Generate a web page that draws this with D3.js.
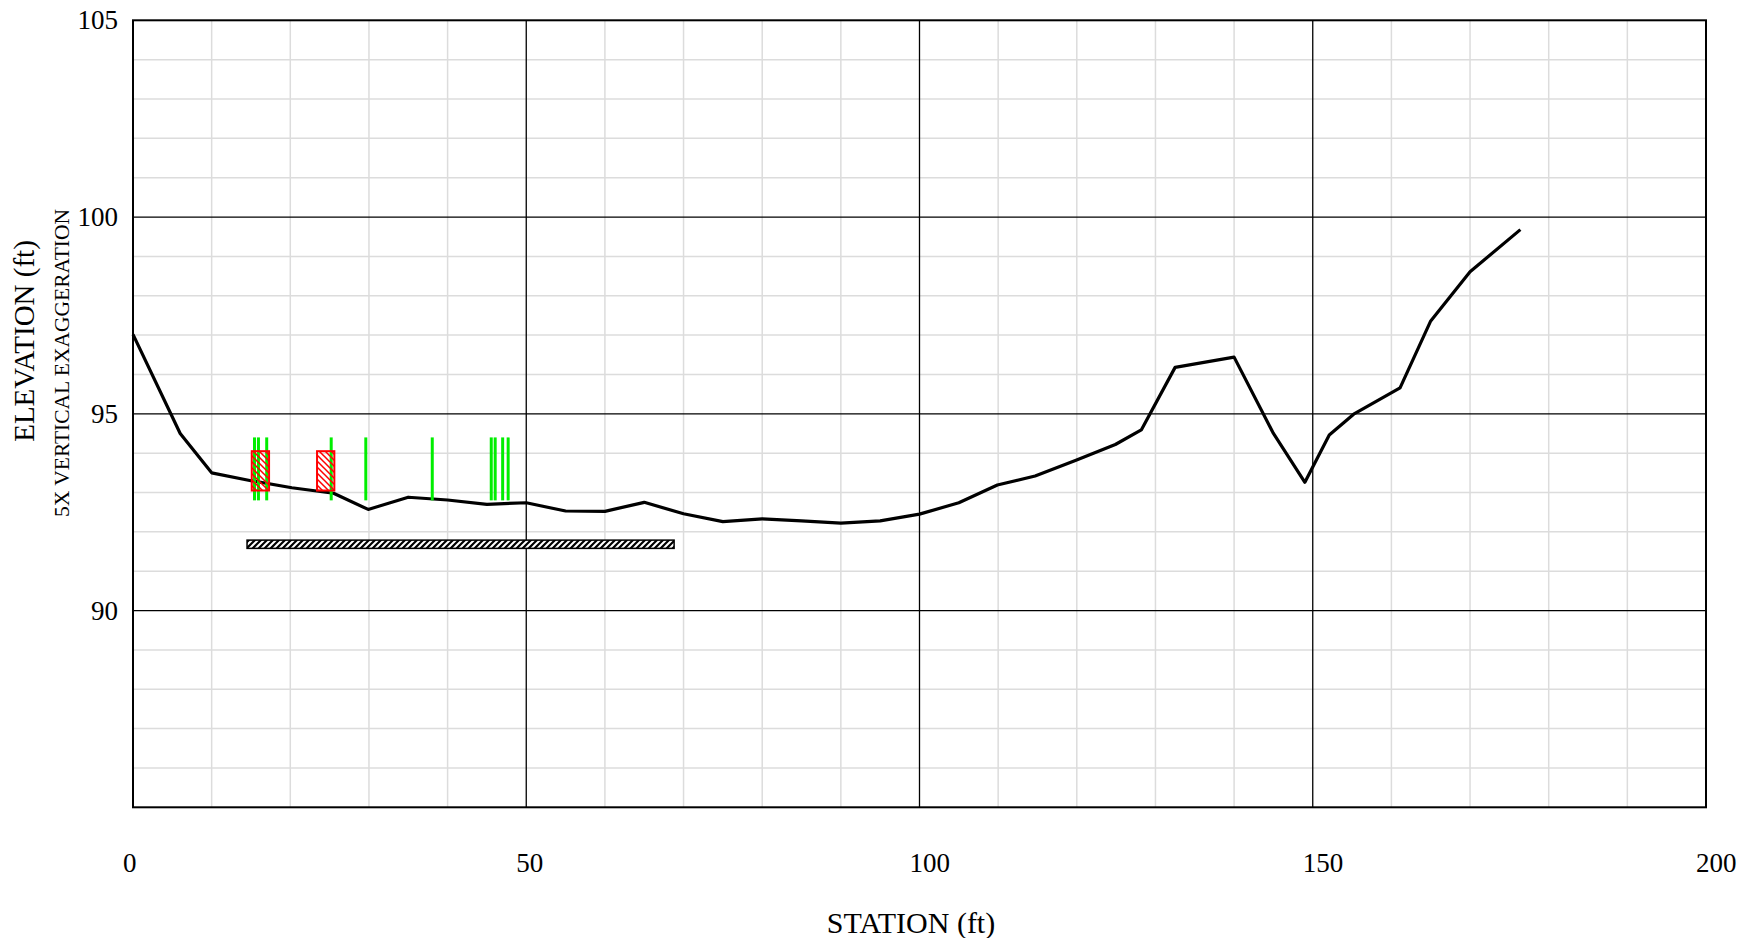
<!DOCTYPE html>
<html>
<head>
<meta charset="utf-8">
<script src="https://cdn.jsdelivr.net/npm/d3@7"></script>
<style>
  html, body { margin: 0; padding: 0; background: #fff; }
  svg { display: block; }
  text { font-family: "Liberation Serif", "Times New Roman", serif; fill: #000; }
</style>
</head>
<body>
<svg id="chart" width="1758" height="938"></svg>
<script>
// ---- data ----
const stations   = [0, 6, 10, 15, 20.2, 25.5, 29.9, 35, 40, 45, 50, 55, 60, 65, 70, 75, 80, 85, 90, 95, 100, 105, 109.9, 114.7, 119.9, 124.9, 128.2, 132.5, 140, 145, 149, 152.1, 155.2, 161.1, 165, 170, 176.4];
const elevations = [97.02, 94.5, 93.5, 93.3, 93.12, 92.98, 92.57, 92.88, 92.81, 92.7, 92.74, 92.53, 92.52, 92.75, 92.46, 92.26, 92.33, 92.28, 92.22, 92.28, 92.45, 92.74, 93.19, 93.42, 93.82, 94.22, 94.59, 96.18, 96.44, 94.5, 93.26, 94.46, 94.99, 95.66, 97.36, 98.61, 99.68];

const greenStations = [15.45, 15.95, 17.0, 25.2, 29.6, 38.05, 45.55, 46.05, 47.0, 47.7];
const greenTop = 94.4, greenBottom = 92.8;

const boxStart = [15.1, 23.4];
const boxEnd   = [17.3, 25.6];
const boxTop = 94.05, boxBottom = 93.05;

const barStart = 14.5, barEnd = 68.8;
const barTop = 91.79, barBottom = 91.58;

const xTicks = [0, 50, 100, 150, 200];
const yTicks = [90, 95, 100, 105];
const xMinor = d3.range(0, 201, 10);
const yMinor = d3.range(85, 106, 1);

// ---- layout ----
const plotLeft = 133, plotTop = 20.3, plotW = 1573, plotH = 787;
const svg = d3.select("#chart");
const x = d3.scaleLinear().domain([0, 200]).range([plotLeft, plotLeft + plotW]);
const y = d3.scaleLinear().domain([85, 105]).range([plotTop + plotH, plotTop]);

const defs = svg.append("defs");
const redHatch = defs.append("pattern").attr("id", "redHatch")
  .attr("patternUnits", "userSpaceOnUse").attr("width", 6).attr("height", 6);
redHatch.append("path").attr("d", "M-1,-1 L7,7 M-4,2 L2,8 M4,-2 L8,2")
  .attr("stroke", "#ff0000").attr("stroke-width", 1.5);

const blackHatch = defs.append("pattern").attr("id", "blackHatch")
  .attr("patternUnits", "userSpaceOnUse").attr("width", 6).attr("height", 6);
blackHatch.append("rect").attr("width", 6).attr("height", 6).attr("fill", "#000");
blackHatch.append("path").attr("d", "M-1,7 L7,-1 M-4,4 L2,-2 M4,8 L8,4")
  .attr("stroke", "#fff").attr("stroke-width", 2);

// ---- grid ----
const g = svg.append("g");
g.selectAll("line.vmin").data(xMinor.filter(d => d % 50 !== 0)).join("line")
  .attr("x1", d => x(d)).attr("x2", d => x(d)).attr("y1", plotTop).attr("y2", plotTop + plotH)
  .attr("stroke", "#dcdcdc").attr("stroke-width", 1.5);
g.selectAll("line.hmin").data(yMinor.filter(d => d % 5 !== 0)).join("line")
  .attr("y1", d => y(d)).attr("y2", d => y(d)).attr("x1", plotLeft).attr("x2", plotLeft + plotW)
  .attr("stroke", "#dcdcdc").attr("stroke-width", 1.5);
g.selectAll("line.vmaj").data(xTicks.slice(1, -1)).join("line")
  .attr("x1", d => x(d)).attr("x2", d => x(d)).attr("y1", plotTop).attr("y2", plotTop + plotH)
  .attr("stroke", "#000").attr("stroke-width", 1.3);
g.selectAll("line.hmaj").data(yTicks.slice(0, -1)).join("line")
  .attr("y1", d => y(d)).attr("y2", d => y(d)).attr("x1", plotLeft).attr("x2", plotLeft + plotW)
  .attr("stroke", "#000").attr("stroke-width", 1.3);

// ---- ground line ----
const pts = stations.map((s, i) => [s, elevations[i]]);
svg.append("path").datum(pts)
  .attr("d", d3.line().x(d => x(d[0])).y(d => y(d[1])))
  .attr("fill", "none").attr("stroke", "#000").attr("stroke-width", 3.2)
  .attr("stroke-linejoin", "round");

// ---- green lines ----
svg.selectAll("line.green").data(greenStations).join("line")
  .attr("x1", d => x(d)).attr("x2", d => x(d))
  .attr("y1", y(greenTop)).attr("y2", y(greenBottom))
  .attr("stroke", "#00ee00").attr("stroke-width", 3);

// ---- red boxes ----
svg.selectAll("rect.redbox").data(boxStart).join("rect")
  .attr("x", d => x(d)).attr("width", (d, i) => x(boxEnd[i]) - x(d))
  .attr("y", y(boxTop)).attr("height", y(boxBottom) - y(boxTop))
  .attr("fill", "url(#redHatch)").attr("stroke", "#ff0000").attr("stroke-width", 2);

// ---- black bar ----
svg.append("rect")
  .attr("x", x(barStart)).attr("width", x(barEnd) - x(barStart))
  .attr("y", y(barTop)).attr("height", y(barBottom) - y(barTop))
  .attr("fill", "url(#blackHatch)").attr("stroke", "#000").attr("stroke-width", 1.5);

// ---- frame ----
svg.append("rect").attr("x", plotLeft).attr("y", plotTop).attr("width", plotW).attr("height", plotH)
  .attr("fill", "none").attr("stroke", "#000").attr("stroke-width", 2);

// ---- tick labels ----
svg.selectAll("text.yt").data(yTicks).join("text")
  .attr("x", plotLeft - 15).attr("y", d => y(d))
  .attr("text-anchor", "end").attr("dominant-baseline", "central")
  .style("font-size", "27px").text(d => d);
svg.selectAll("text.xt").data(xTicks).join("text")
  .attr("x", d => x(d) - 10).attr("y", 863)
  .attr("text-anchor", "start").attr("dominant-baseline", "central")
  .style("font-size", "27px").text(d => d);

// ---- titles ----
svg.append("text").attr("transform", "translate(24,341) rotate(-90)")
  .attr("text-anchor", "middle").attr("dominant-baseline", "central")
  .style("font-size", "29px").text("ELEVATION (ft)");
svg.append("text").attr("transform", "translate(62,363) rotate(-90)")
  .attr("text-anchor", "middle").attr("dominant-baseline", "central")
  .style("font-size", "21.5px").text("5X VERTICAL EXAGGERATION");
svg.append("text").attr("x", 911).attr("y", 922)
  .attr("text-anchor", "middle").attr("dominant-baseline", "central")
  .style("font-size", "30px").text("STATION (ft)");
</script>
</body>
</html>
